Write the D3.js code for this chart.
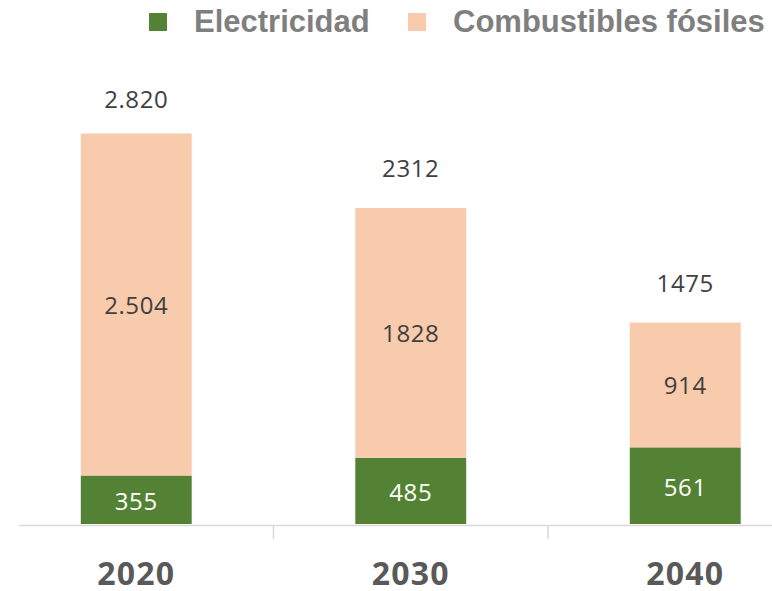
<!DOCTYPE html>
<html>
<head>
<meta charset="utf-8">
<script src="https://cdn.jsdelivr.net/npm/d3@7"></script>
<style>
	body { margin: 0; background: #fff; }
	svg { display: block; }
</style>
</head>
<body>
<svg id="chart" width="772" height="591"></svg>
<script>
	// Data
	const years = ["2020", "2030", "2040"]
	const electricidad = [355, 485, 561]
	const combustibles = [2504, 1828, 914]
	const totals = [2820, 2312, 1475]
	const combustiblesLabels = ["2.504", "1828", "914"]
	const totalLabels = ["2.820", "2312", "1475"]
	const seriesNames = ["Electricidad", "Combustibles fósiles"]

	const config = {
		green: "#548235",
		peach: "#f8cbad",
		axis: "#d9d9d9",
		labelFont: "'Open Sans', sans-serif",
		legendFont: "'Liberation Sans', Arial, sans-serif",
		baseline: 524,
	}

	const svg = d3.select("#chart")

	const x = d3.scaleBand()
		.domain(years)
		.range([-1, 822.5])
		.paddingInner(0.596)
		.paddingOuter(0.298)

	const y = d3.scaleLinear()
		.domain([0, 3000])
		.range([config.baseline, config.baseline - 3000 * 0.1366])

	const rows = years.map((year, i) => ({
		year,
		elec: electricidad[i],
		fos: combustibles[i],
		total: totals[i],
		fosLabel: combustiblesLabels[i],
		totalLabel: totalLabels[i],
	}))

	// Axis line and category separators
	svg.append("line")
		.attr("x1", 19).attr("x2", 772)
		.attr("y1", config.baseline + 1.5).attr("y2", config.baseline + 1.5)
		.attr("stroke", config.axis)
		.attr("stroke-width", 1.5)

	svg.selectAll("line.sep")
		.data(years.slice(1))
		.join("line")
		.attr("class", "sep")
		.attr("x1", d => x(d) - x.step() * x.paddingInner() / 2)
		.attr("x2", d => x(d) - x.step() * x.paddingInner() / 2)
		.attr("y1", config.baseline + 1)
		.attr("y2", config.baseline + 15)
		.attr("stroke", config.axis)
		.attr("stroke-width", 1.5)

	// Stacked bars
	const bars = svg.append("g").attr("class", "bars")
		.selectAll("g")
		.data(rows)
		.join("g")

	bars.append("rect")
		.attr("x", d => x(d.year))
		.attr("width", x.bandwidth())
		.attr("y", d => y(d.elec))
		.attr("height", d => y(0) - y(d.elec))
		.attr("fill", config.green)

	bars.append("rect")
		.attr("x", d => x(d.year))
		.attr("width", x.bandwidth())
		.attr("y", d => y(d.elec + d.fos))
		.attr("height", d => y(d.elec) - y(d.elec + d.fos))
		.attr("fill", config.peach)

	// Value labels
	const cx = d => x(d.year) + x.bandwidth() / 2

	bars.append("text")
		.attr("x", cx)
		.attr("y", d => (y(0) + y(d.elec)) / 2 + 2)
		.attr("dy", "0.35em")
		.attr("fill", "#fff")
		.text(d => d.elec)

	bars.append("text")
		.attr("x", cx)
		.attr("y", d => (y(d.elec) + y(d.elec + d.fos)) / 2 + 1)
		.attr("dy", "0.35em")
		.attr("fill", "#404040")
		.text(d => d.fosLabel)

	bars.append("text")
		.attr("x", cx)
		.attr("y", d => y(d.total) - 31)
		.attr("fill", "#404040")
		.text(d => d.totalLabel)

	bars.selectAll("text")
		.attr("text-anchor", "middle")
		.style("font-family", config.labelFont)
		.style("font-size", "24px")
		.style("letter-spacing", "0.6px")

	// Category axis
	const axis = svg.append("g")
		.attr("transform", `translate(0, ${config.baseline + 1})`)
		.call(d3.axisBottom(x).tickSize(0).tickPadding(37))
	axis.select(".domain").remove()
	axis.selectAll("text")
		.style("font-family", config.labelFont)
		.style("font-size", "32px")
		.style("font-weight", "bold")
		.style("letter-spacing", "1.2px")
		.attr("fill", "#595959")

	// Legend
	const legendX = [149, 408]
	const legend = svg.append("g").attr("class", "legend")
		.selectAll("g")
		.data(seriesNames)
		.join("g")
		.attr("transform", (d, i) => `translate(${legendX[i]}, 0)`)
	legend.append("rect")
		.attr("x", 0).attr("y", 13)
		.attr("width", 18).attr("height", 18)
		.attr("fill", (d, i) => i ? config.peach : config.green)
	legend.append("text")
		.attr("x", 45)
		.attr("y", 32)
		.style("font-family", config.legendFont)
		.style("font-size", "31px")
		.style("font-weight", "bold")
		.attr("fill", "#7f7f7f")
		.text(d => d)
</script>
</body>
</html>
